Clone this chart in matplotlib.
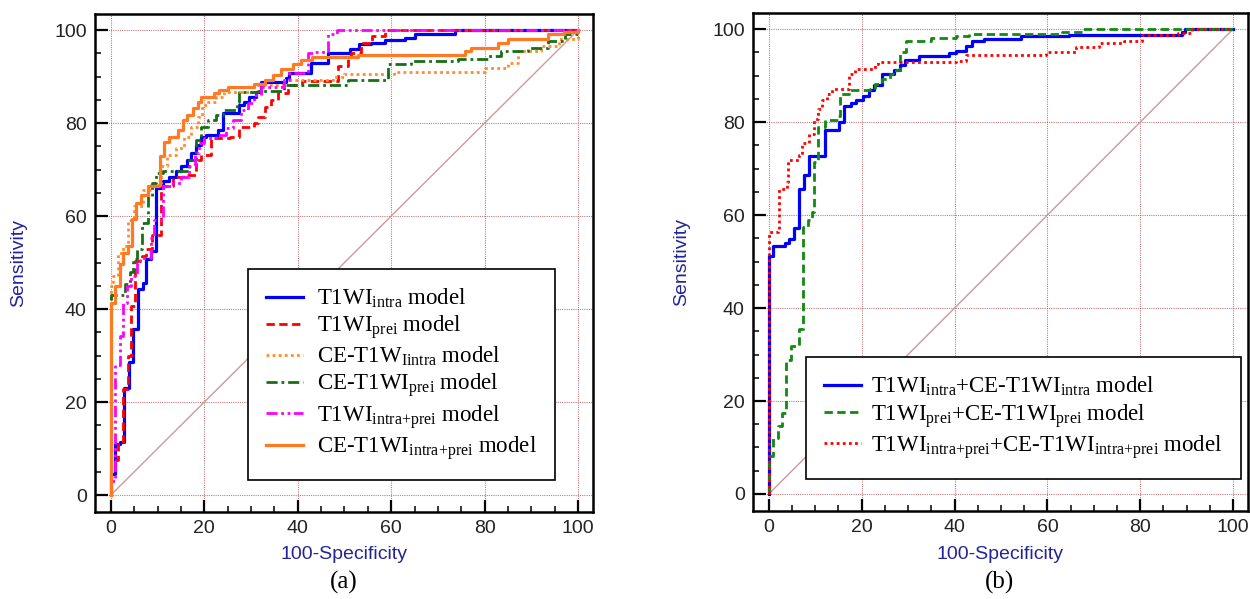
import matplotlib
matplotlib.use("Agg")
import matplotlib.pyplot as plt

plt.rcParams['font.family'] = ['Liberation Sans', 'DejaVu Sans']
plt.rcParams['mathtext.fontset'] = 'custom'
plt.rcParams['mathtext.rm'] = 'Liberation Serif'
plt.rcParams['mathtext.it'] = 'Liberation Serif:italic'

# ---- panel (a): single models (x = 100-specificity, y = sensitivity) ----
t1_intra_x = [0, 0, 0.8, 1.9, 2.9, 3.9, 4.8, 5.9, 6.9, 7.6, 8.5, 9.6, 11.1, 12.5, 13.9, 15, 16.3, 17.1,
              18.2, 19.3, 20.4, 22.9, 23.9, 27.5, 28.6, 29.6, 31.1, 32.1, 37.5, 38.2, 42.9, 46.4, 51.2,
              53.2, 55.7, 58.6, 62.9, 65, 73.6, 100]
t1_intra_y = [0, 4.5, 11, 11.5, 23, 28.6, 35.7, 44.3, 45.7, 50.7, 52.5, 66, 67.5, 68.5, 69.6, 70.7, 72.1, 73.5,
              75.3, 77.1, 77.5, 78.5, 82.1, 83.9, 84.6, 85.7, 86.7, 88.9, 89.6, 90.7, 93, 95, 96,
              96.9, 97.3, 97.8, 98.3, 99.1, 100, 100]

t1_prei_x = [0, 0, 1.6, 2.6, 3.7, 4.4, 5.1, 6.6, 7.5, 8.7, 10.7, 13.2, 15.4, 18.2, 19.3, 21.4, 25.4, 27.5,
             30.7, 31.4, 32.9, 34.3, 35.7, 37.9, 41, 48.6, 50.7, 51.4, 53.6, 56, 58.6, 100]
t1_prei_y = [0, 7.5, 11, 22.9, 30, 40.7, 50.4, 51.4, 53, 56, 66.4, 68.5, 68.9, 72.1, 73.2, 76.7, 77.1, 79.2,
             80, 81.4, 83.5, 85, 86.4, 88.2, 89, 92.2, 94.5, 95.1, 97.3, 98.7, 100, 100]

ce_intra_x = [0, 0, 0.5, 1.6, 2.6, 3.7, 5, 6.8, 8.6, 10.7, 12.1, 13.9, 15.7, 17.1, 18.6, 19.6, 20.7, 22.5,
              24.3, 30.7, 37, 47.5, 50, 60.7, 80, 85, 87.1, 92, 96, 100]
ce_intra_y = [0, 45, 47.1, 52.1, 53.6, 59.2, 62.1, 65.7, 67.1, 70.7, 73.2, 74.6, 77.1, 79.2, 81.4, 83.9, 84.6, 85.7,
              86.7, 88.2, 89.2, 89.9, 90.5, 91, 91.8, 93, 95.5, 96.5, 98, 100]

ce_prei_x = [0, 0, 3, 4.1, 4.8, 5.5, 6.6, 7.9, 8.9, 9.6, 11.1, 16.8, 18.2, 19.3, 20.7, 22.5, 23.9, 27.1,
             27.5, 31.4, 37.1, 50.7, 59.3, 64.3, 74.3, 80.7, 83.6, 89.3, 93.6, 97.1, 100]
ce_prei_y = [0, 43, 45.4, 47.9, 50.7, 52.9, 58.6, 64.2, 67.1, 69.2, 69.6, 72.1, 76.4, 79.2, 80.7, 81.7, 82.8, 84.6,
             86.7, 87, 88.2, 89.3, 92.6, 93.3, 93.8, 94.4, 95.5, 96.2, 97.6, 99.1, 100]

t1_both_x = [0, 0, 0.9, 1.9, 2.6, 3.4, 4.4, 5.5, 6.2, 8.6, 9.3, 11.1, 12.9, 15, 16.8, 17.9, 18.9, 20,
             22.5, 24.6, 26.1, 27.9, 29.3, 30.7, 32.1, 37.1, 38.2, 42.3, 43.6, 46.4, 48.3, 100]
t1_both_y = [0, 3, 27.9, 34.3, 41.4, 45, 47.1, 50, 51, 55.3, 59.2, 66.4, 67.1, 68.5, 70.7, 73.5, 75.7, 76.7,
             77.5, 78.9, 80.7, 82.8, 84.3, 86, 87.8, 89.2, 90.7, 95, 95.3, 99.2, 100, 100]

ce_both_x = [0, 0, 0.9, 1.9, 2.6, 3.7, 4.6, 5.4, 6.4, 7.9, 10.4, 10.6, 11.4, 12.5, 14.3, 15.4, 16.4, 17.5,
             18.6, 19.3, 22.1, 23.2, 25, 30.7, 32.9, 34.6, 36.4, 38.9, 40.7, 43, 53, 75.7, 77.1, 82.9,
             85, 93.6, 97, 100]
ce_both_y = [0, 41.4, 45, 49.6, 52.1, 53.6, 59.3, 62.7, 64.6, 66.4, 66.7, 72.9, 76, 77.1, 78.5, 80.7, 81.7, 83.2,
             84.6, 85.7, 86.4, 87.1, 87.8, 88.5, 89.2, 90.3, 91.7, 92.8, 93.5, 94.2, 94.6, 95.5, 96.2, 97.3,
             98, 99.1, 99.6, 100]

# ---- panel (b): combined models ----
comb_intra_x = [0, 0, 0.9, 3.4, 4.4, 5.5, 6.6, 7.6, 8.6, 12.2, 15.2, 16.2, 17.7, 18.7, 20.2, 21.6, 22.6,
                24.4, 26.9, 28.3, 29.4, 32.3, 38.9, 40.3, 42.4, 43.7, 46.3, 54.3, 64.6, 88.9, 89.6, 100]
comb_intra_y = [0, 51.1, 53.4, 53.9, 54.8, 57.3, 65.7, 68.6, 72.7, 78.2, 80, 83.4, 84.1, 84.8, 85.5, 86.8, 87.9,
                90.4, 91.1, 92.2, 93.4, 94.3, 94.8, 95.2, 96.4, 97.4, 97.9, 98.5, 98.7, 99.4, 100, 100]

comb_prei_x = [0, 0, 0.9, 1.9, 2.9, 3.7, 4.8, 6.6, 7.4, 8.4, 9.3, 9.7, 10.7, 12.2, 15, 15.4, 17.2, 21.8,
               22.8, 24.3, 26, 27.5, 28.2, 29.6, 35, 40.3, 43.1, 63.2, 67.5, 100]
comb_prei_y = [0, 8.2, 12.1, 14.6, 17.5, 28.9, 31.8, 35.4, 57.5, 58.9, 60.7, 71.4, 78.9, 80.5, 81.4, 86.1, 86.8, 87.1,
               88.1, 89.3, 90.4, 91.1, 95, 97.4, 98.1, 98.6, 98.9, 99.4, 100, 100]

comb_both_x = [0, 0, 1.9, 2.2, 4, 4.1, 6.5, 7.2, 8.6, 9.7, 10.7, 11.5, 12.5, 13.6, 17.2, 18.6, 22.8, 23.6,
               40.3, 42.4, 59.6, 66.1, 71.1, 76.4, 80.4, 88.2, 91.1, 100]
comb_both_y = [0, 56.4, 57.1, 65.7, 67.1, 71.8, 72.9, 75.4, 77.5, 80.7, 82.9, 84.7, 86.1, 87.2, 90.4, 91.4, 92.5, 92.9,
               93.2, 94.5, 95.1, 96.2, 96.9, 97.5, 98.7, 99.1, 100, 100]

ticks = [0, 20, 40, 60, 80, 100]
label_blue = '#24249a'

fig = plt.figure(figsize=(12.5, 5.99), dpi=100)
ax1 = fig.add_axes([0.076, 0.1452, 0.3984, 0.831])
ax2 = fig.add_axes([0.6024, 0.1469, 0.396, 0.831])


def style_axes(ax):
    ax.set_xlim(-3.4, 103.2)
    ax.set_ylim(-3.66, 103.4)
    ax.set_xticks(ticks)
    ax.set_yticks(ticks)
    ax.set_xticks(range(0, 101, 5), minor=True)
    ax.set_yticks(range(0, 101, 5), minor=True)
    ax.tick_params(which='major', direction='in', length=9, width=1.6, labelsize=14,
                   labelcolor='#222222', pad=6)
    ax.tick_params(which='minor', direction='in', length=4, width=1.1)
    for s in ax.spines.values():
        s.set_linewidth(1.8)
    ax.grid(True, which='major', color='#b05050', linestyle=(0, (1, 1)), linewidth=0.8, alpha=0.75)
    ax.set_axisbelow(True)
    ax.plot([0, 100], [0, 100], color='#cc9a9a', linewidth=1.0, zorder=1)
    ax.set_xlabel('100-Specificity', fontsize=14, color=label_blue)
    ax.set_ylabel('Sensitivity', fontsize=14, color=label_blue)


style_axes(ax1)
style_axes(ax2)

lw = 2.0
ax1.plot(t1_intra_x, t1_intra_y, drawstyle='steps-post', color='#0000ff', lw=2.3,
         label=r'T1WI$_{\mathrm{intra}}$ model')
ax1.plot(t1_prei_x, t1_prei_y, drawstyle='steps-post', color='#ff0000', lw=lw, linestyle=(0, (3, 1.6)),
         label=r'T1WI$_{\mathrm{prei}}$ model')
ax1.plot(ce_intra_x, ce_intra_y, drawstyle='steps-post', color='#ff8c28', lw=lw, linestyle=(0, (1, 1.2)),
         label=r'CE-T1W$_{\mathrm{Iintra}}$ model')
ax1.plot(ce_prei_x, ce_prei_y, drawstyle='steps-post', color='#157015', lw=lw, linestyle=(0, (4, 1.4, 1, 1.4)),
         label=r'CE-T1WI$_{\mathrm{prei}}$ model')
ax1.plot(t1_both_x, t1_both_y, drawstyle='steps-post', color='#ff00ff', lw=lw,
         linestyle=(0, (4, 1.3, 1, 1.3, 1, 1.3)),
         label=r'T1WI$_{\mathrm{intra{+}prei}}$ model')
ax1.plot(ce_both_x, ce_both_y, drawstyle='steps-post', color='#ff7a22', lw=2.3,
         label=r'CE-T1WI$_{\mathrm{intra{+}prei}}$ model')

ax2.plot(comb_intra_x, comb_intra_y, drawstyle='steps-post', color='#0000ff', lw=2.3,
         label=r'T1WI$_{\mathrm{intra}}$+CE-T1WI$_{\mathrm{intra}}$ model')
ax2.plot(comb_prei_x, comb_prei_y, drawstyle='steps-post', color='#108a10', lw=lw, linestyle=(0, (3, 1.6)),
         label=r'T1WI$_{\mathrm{prei}}$+CE-T1WI$_{\mathrm{prei}}$ model')
ax2.plot(comb_both_x, comb_both_y, drawstyle='steps-post', color='#ff0000', lw=lw, linestyle=(0, (1, 1.2)),
         label=r'T1WI$_{\mathrm{intra{+}prei}}$+CE-T1WI$_{\mathrm{intra{+}prei}}$ model')

ax1.yaxis.set_label_coords(-0.137, 0.5)
ax2.yaxis.set_label_coords(-0.128, 0.5)
ax1.xaxis.set_label_coords(0.5, -0.068)
ax2.xaxis.set_label_coords(0.5, -0.070)

legend_props = {'family': 'Liberation Serif', 'size': 16.5}
for ax, anchor, tpad in ((ax1, (0.307, 0.064), 0.6), (ax2, (0.107, 0.064), 0.45)):
    leg = ax.legend(loc='lower left', bbox_to_anchor=anchor, prop=legend_props, fancybox=False,
                    edgecolor='black', framealpha=1, handlelength=1.6, handletextpad=tpad,
                    labelspacing=0.15, borderpad=0.8, borderaxespad=0)
    leg.get_frame().set_linewidth(1.2)

fig.text(0.275, 0.027, '(a)', fontsize=18, family='Liberation Serif', ha='center', va='center')
fig.text(0.8, 0.027, '(b)', fontsize=18, family='Liberation Serif', ha='center', va='center')

fig.savefig('out.png', dpi=100)
